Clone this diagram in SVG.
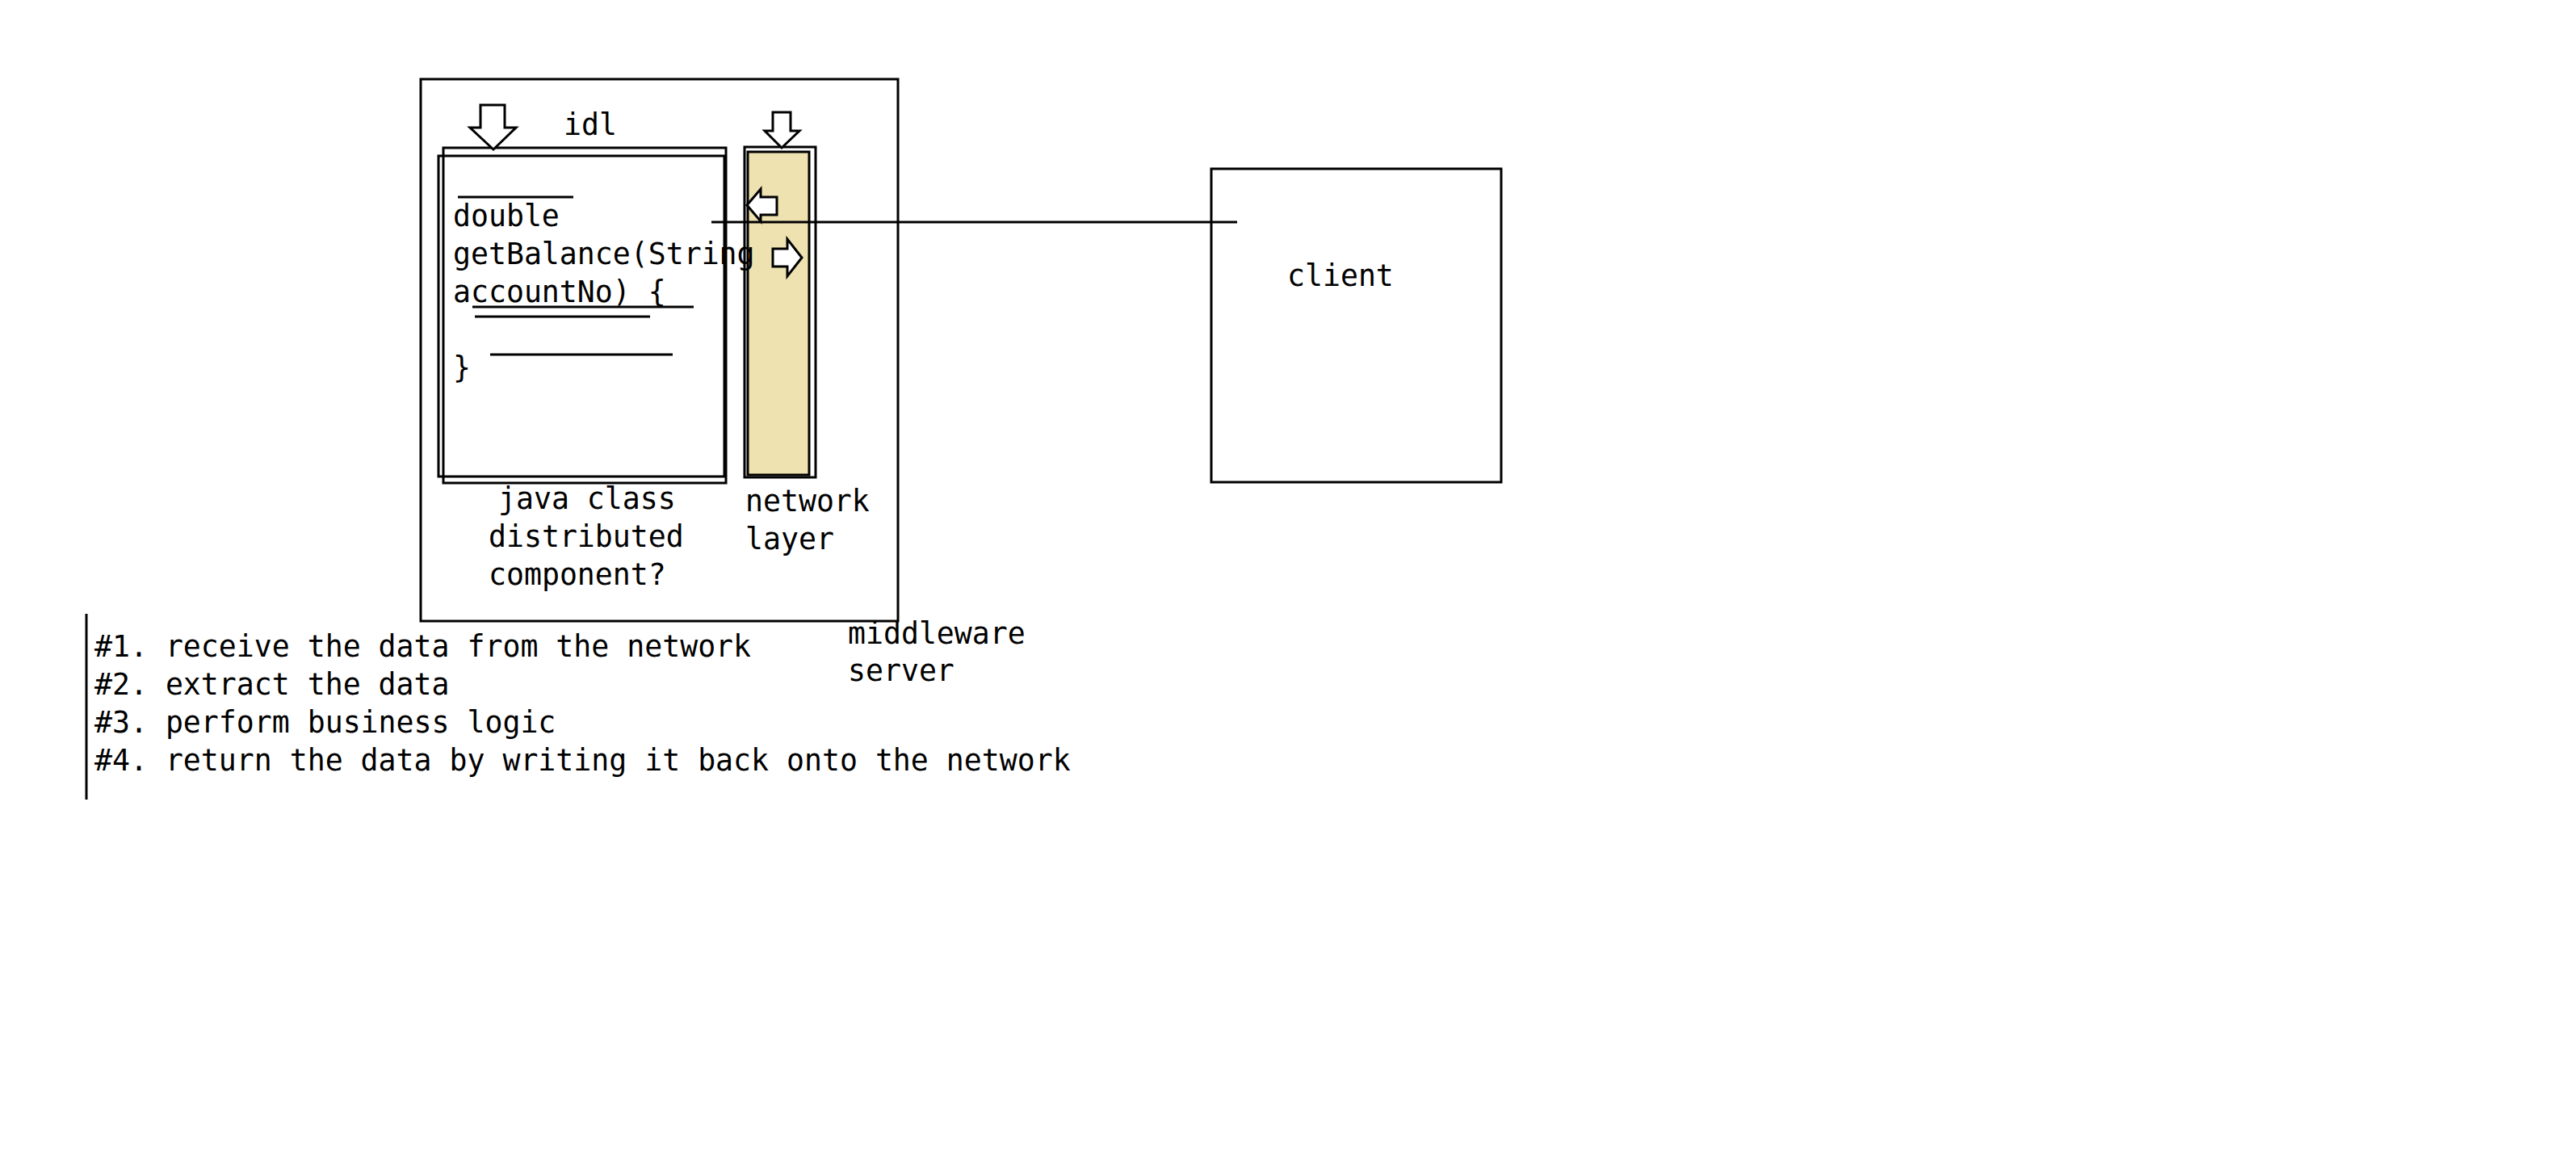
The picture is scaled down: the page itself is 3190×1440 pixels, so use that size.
<svg xmlns="http://www.w3.org/2000/svg" width="3190" height="1440" viewBox="0 0 3190 1440">
<style>
  .box{fill:none;stroke:#000;stroke-width:3}
  .wbox{fill:#fff;stroke:#000;stroke-width:3}
  .ln{stroke:#000;stroke-width:3;fill:none}
  .arr{fill:#fff;stroke:#000;stroke-width:3;stroke-linejoin:miter}
  .t{font-family:"DejaVu Sans Mono","Liberation Mono",monospace;font-size:36.5px;fill:#000}
</style>
<rect width="3190" height="1440" fill="#fff"/>
<g id="middleware-server">
  <rect class="box" x="521" y="98" width="591" height="671"/>
  <text class="t" x="1050" y="797">middleware</text>
  <text class="t" x="1050" y="843">server</text>
</g>
<g id="network-layer">
  <rect class="box" x="922" y="182" width="88" height="409"/>
  <rect x="926" y="188" width="76" height="400" fill="#EEE2B0" stroke="#000" stroke-width="3"/>
  <polygon class="arr" points="957,139 979,139 979,162 990,162 968,183 947,162 957,162"/>
  <text class="t" x="923" y="633">network</text>
  <text class="t" x="923" y="680">layer</text>
</g>
<g id="java-class">
  <rect class="wbox" x="549" y="183" width="350" height="415"/>
  <rect class="box" x="543" y="193" width="354" height="397"/>
  <line class="ln" x1="567" y1="244" x2="710" y2="244"/>
  <line class="ln" x1="585" y1="380" x2="859" y2="380"/>
  <line class="ln" x1="588" y1="392" x2="805" y2="392"/>
  <line class="ln" x1="607" y1="439" x2="833" y2="439"/>
  <text class="t" x="561" y="280">double</text>
  <text class="t" x="561" y="327">getBalance(String</text>
  <text class="t" x="561" y="374">accountNo) {</text>
  <text class="t" x="561" y="468">}</text>
  <text class="t" x="617" y="630">java class</text>
  <text class="t" x="605" y="677">distributed</text>
  <text class="t" x="605" y="724">component?</text>
</g>
<g id="idl">
  <polygon class="arr" points="595,130 625,130 625,158 639,158 611,185 582,158 595,158"/>
  <text class="t" x="698" y="167">idl</text>
</g>
<g id="client">
  <rect class="box" x="1500" y="209" width="359" height="388"/>
  <text class="t" x="1594" y="354">client</text>
</g>
<g id="notes">
  <line class="ln" x1="107" y1="760" x2="107" y2="990"/>
  <text class="t" x="117" y="813">#1. receive the data from the network</text>
  <text class="t" x="117" y="860">#2. extract the data</text>
  <text class="t" x="117" y="907">#3. perform business logic</text>
  <text class="t" x="117" y="954">#4. return the data by writing it back onto the network</text>
</g>
<g id="connectors">
  <line class="ln" x1="881" y1="275" x2="1532" y2="275"/>
  <polygon class="arr" points="925,254 942,234 942,244 962,244 962,266 942,266 942,274"/>
  <polygon class="arr" points="957,308 975,308 975,296 993,319 975,342 975,330 957,330"/>
</g>
</svg>
